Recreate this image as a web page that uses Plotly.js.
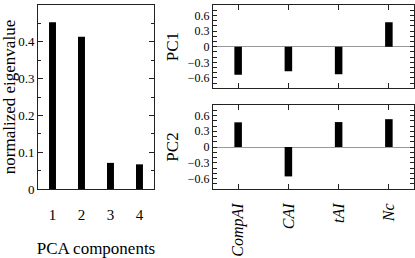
<!DOCTYPE html>
<html><head><meta charset="utf-8">
<script src="https://cdn.plot.ly/plotly-3.0.1.min.js"></script>
<style>html,body{margin:0;padding:0;background:#fff}#chart{width:415px;height:258px}</style>
</head><body><div id="chart"></div>
<script>
var components = [1, 2, 3, 4];
var eigenvalues = [0.453, 0.414, 0.071, 0.067];
var indices = ['CompAI', 'CAI', 'tAI', 'Nc'];
var pc1 = [-0.54, -0.47, -0.53, 0.47];
var pc2 = [0.47, -0.56, 0.475, 0.53];

var F = 'Liberation Serif';
var lineC = '#222';
var traces = [
  {type:'bar', x:components, y:eigenvalues, xaxis:'x', yaxis:'y', width:0.24, marker:{color:'#000'}},
  {type:'bar', x:[0,1,2,3], y:pc1, xaxis:'x2', yaxis:'y2', width:0.15, marker:{color:'#000'}},
  {type:'bar', x:[0,1,2,3], y:pc2, xaxis:'x3', yaxis:'y3', width:0.15, marker:{color:'#000'}}
];
function yPC(dom, anchor, t){
  return {domain:dom, anchor:anchor, range:[-0.8,0.8], tickmode:'linear', tick0:0, dtick:0.3,
    ticks:'inside', ticklen:4, tickcolor:lineC, showline:true, linecolor:lineC, mirror:'ticks',
    showgrid:false, zeroline:true, zerolinecolor:'#999', zerolinewidth:1,
    minor:{dtick:0.1, tick0:0, ticks:'inside', ticklen:4, tickcolor:lineC, showgrid:false},
    tickfont:{family:F, size:12, color:'#000'},
    title:{text:t, font:{family:F, size:17, color:'#000'}, standoff:4}};
}
function xPC(dom, anchor, labels){
  return {domain:dom, anchor:anchor, range:[-0.5,3.5], tickmode:'array', tickvals:[0,1,2,3],
    ticktext: labels ? indices : ['','','',''], tickangle:-90, ticklabelstandoff:7,
    ticks:'inside', ticklen:5, tickcolor:lineC, showline:true, linecolor:lineC, mirror:'ticks',
    showgrid:false, zeroline:false,
    tickfont:{family:F, size:16, color:'#000', style:'italic'}};
}
var layout = {
  width:415, height:258, autosize:false, margin:{l:0,r:0,t:5,b:69},
  paper_bgcolor:'#fff', plot_bgcolor:'#fff', showlegend:false,
  font:{family:F, color:'#000'},
  xaxis:{domain:[0.0916,0.371], anchor:'y', range:[0.5,4.5], tickmode:'array', tickvals:components,
    ticks:'', showline:true, linecolor:lineC, mirror:true, showgrid:false, zeroline:false,
    ticklabelstandoff:12,
    tickfont:{family:F, size:15, color:'#000'},
    title:{text:'PCA components', font:{family:F, size:17, color:'#000'}, standoff:30}},
  yaxis:{domain:[0,1], anchor:'x', range:[0,0.5], tickmode:'linear', tick0:0, dtick:0.1,
    ticks:'inside', ticklen:5, tickcolor:lineC, showline:true, linecolor:lineC, mirror:'ticks',
    showgrid:false, zeroline:false,
    minor:{dtick:0.05, tick0:0, ticks:'inside', ticklen:3, tickcolor:lineC, showgrid:false},
    tickfont:{family:F, size:13, color:'#000'},
    title:{text:'normalized eigenvalue', font:{family:F, size:17, color:'#000'}, standoff:4}},
  xaxis2: xPC([0.5133,0.9976], 'y2', false),
  yaxis2: yPC([0.547,1], 'x2', 'PC1'),
  xaxis3: xPC([0.5133,0.9976], 'y3', true),
  yaxis3: yPC([0,0.4565], 'x3', 'PC2')
};
Plotly.newPlot('chart', traces, layout, {staticPlot:true, displayModeBar:false});
</script></body></html>
